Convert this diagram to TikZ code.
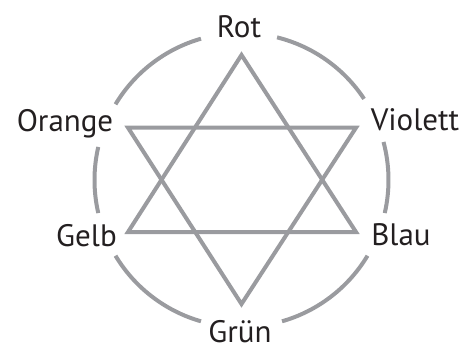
\documentclass[tikz,border=0pt]{standalone}
\usepackage{fontspec}
\setmainfont{PT Sans}
\usetikzlibrary{calc}
\definecolor{stargray}{HTML}{9A9B9F}
\definecolor{txt}{HTML}{231F20}
\begin{document}
\begin{tikzpicture}[x=1bp,y=-1bp,
  ring/.style={draw=stargray,line width=4bp},
  starline/.style={draw=stargray,line width=4bp,miter limit=10},
  lbl/.style={anchor=base,inner sep=0pt,text=txt,font=\fontsize{31bp}{33bp}\selectfont}]
\useasboundingbox (0,0) rectangle (468,345);
\coordinate (c) at (241.5,180);
% star vertices
\coordinate (t1) at (241.5,55);
\coordinate (t2) at (356,232);
\coordinate (t3) at (128,232);
\coordinate (d1) at (128,127.7);
\coordinate (d2) at (356,127.7);
\coordinate (d3) at (241.5,304);
\draw[starline] (t1) -- (t2) -- (t3) -- cycle;
\draw[starline] (d1) -- (d2) -- (d3) -- cycle;
% ring arcs
\foreach \a/\b in {-76/-33.5, -15/13, 31/74, 106/149, 167/193, 211/254}
  \draw[ring] ($(c)+(\a:147)$) arc[start angle=\a,end angle=\b,radius=147];
\node[lbl] (rot) at (239,37.7) {Rot};
\node[lbl] (orange) at (65,131.7) {Orange};
\node[lbl] (violett) at (415,130) {Violett};
\node[lbl] (gelb) at (86.5,246.7) {Gelb};
\node[lbl] (blau) at (401,245) {Blau};
\node[lbl] (gruen) at (240,342.5) {Grün};
\end{tikzpicture}
\end{document}
